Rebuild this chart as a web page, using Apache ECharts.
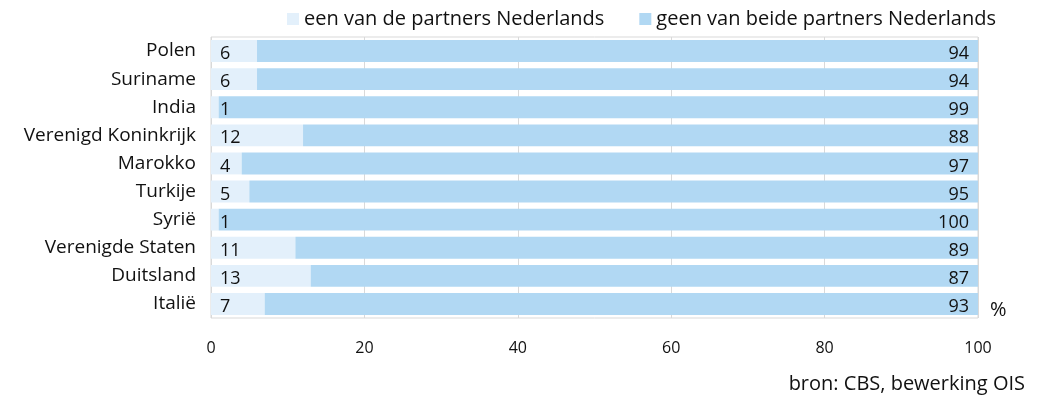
<!DOCTYPE html>
<html lang="nl">
<head>
  <meta charset="UTF-8" />
  <title>Partners Nederlands per herkomstland</title>
  <script src="https://cdn.jsdelivr.net/npm/echarts@6/dist/echarts.min.js"></script>
  <style>
    body { margin: 0; background: #fff; }
    #main { width: 1039px; height: 403px; }
  </style>
</head>
<body>
  <div id="main"></div>
  <script>
    const countries = ['Polen', 'Suriname', 'India', 'Verenigd Koninkrijk', 'Marokko',
      'Turkije', 'Syrië', 'Verenigde Staten', 'Duitsland', 'Italië'];
    const eenVan = [6, 6, 1, 12, 4, 5, 1, 11, 13, 7];
    const geenVan = [94, 94, 99, 88, 97, 95, 100, 89, 87, 93];
    const xTicks = [0, 20, 40, 60, 80, 100];

    const font = '"Open Sans", Lato, sans-serif';
    const chart = echarts.init(document.getElementById('main'));

    const option = {
      animation: false,
      textStyle: { fontFamily: font, color: '#111' },
      legend: {
        top: 4,
        left: 282,
        itemWidth: 12,
        itemHeight: 12,
        itemGap: 35,
        icon: 'rect',
        textStyle: { fontSize: 20, color: '#111', fontFamily: font },
        data: ['een van de partners Nederlands', 'geen van beide partners Nederlands']
      },
      grid: {
        left: 211, right: 61, top: 37, height: 281,
        show: true, borderColor: '#d9d9d9', borderWidth: 1
      },
      xAxis: {
        type: 'value',
        min: 0, max: 100, interval: 20,
        axisLine: { show: false },
        axisTick: { show: false },
        splitLine: { lineStyle: { color: '#d9d9d9' } },
        axisLabel: {
          margin: 22, fontSize: 16, color: '#111',
          formatter: v => xTicks.includes(v) ? String(v) : ''
        }
      },
      yAxis: {
        type: 'category',
        inverse: true,
        data: countries,
        axisLine: { show: false },
        axisTick: { show: false },
        axisLabel: { fontSize: 19, color: '#111', margin: 15 }
      },
      series: [
        {
          name: 'een van de partners Nederlands',
          type: 'bar', stack: 'tot',
          barCategoryGap: '22%',
          data: eenVan,
          itemStyle: { color: '#e3f0fb' },
          label: {
            show: true, position: 'insideLeft', distance: 9, offset: [0, 3],
            fontSize: 18, color: '#111', fontFamily: font
          }
        },
        {
          name: 'geen van beide partners Nederlands',
          type: 'bar', stack: 'tot',
          data: geenVan,
          itemStyle: { color: '#b1d8f3' },
          label: {
            show: true, position: 'insideRight', distance: 9, offset: [0, 3],
            fontSize: 18, color: '#111', fontFamily: font
          }
        }
      ],
      graphic: [
        { type: 'text', left: 990, top: 300, style: { text: '%', font: '20px ' + font, fill: '#111' } },
        { type: 'text', right: 14, top: 374, style: { text: 'bron: CBS, bewerking OIS', font: '20px ' + font, fill: '#111' } }
      ]
    };

    chart.setOption(option);
    window.addEventListener('resize', () => chart.resize());
  </script>
</body>
</html>
